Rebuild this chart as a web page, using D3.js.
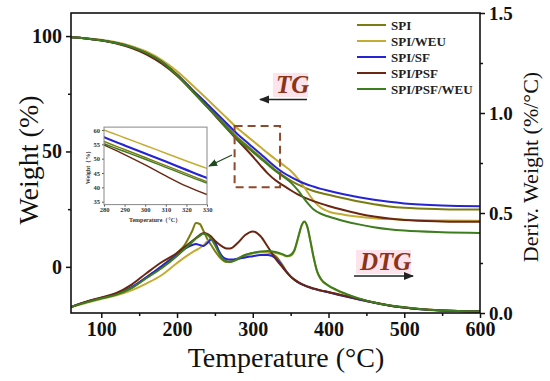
<!DOCTYPE html>
<html>
<head>
<meta charset="utf-8">
<script src="https://cdn.jsdelivr.net/npm/d3@7"></script>
<style>
  body { margin: 0; background: #fff; }
  svg { display: block; font-family: "Liberation Serif", "Times New Roman", serif; }
</style>
</head>
<body>
<svg width="550" height="381"></svg>
<script>
const seriesNames = ["SPI", "SPI/WEU", "SPI/SF", "SPI/PSF", "SPI/PSF/WEU"];
const seriesColors = ["#7c7c14", "#c4ab32", "#2424d4", "#6a2612", "#3d7d1f"];

// TG (weight %)
const tgTemps = [60, 80, 100, 120, 140, 160, 180, 200, 220, 240, 260, 280, 290, 300, 310, 320, 330, 340, 350, 360, 370, 380, 390, 400, 420, 440, 460, 480, 500, 550, 600];
const tgSPI = [99.5, 99.0, 98.2, 97.0, 95.2, 92.6, 88.8, 83.5, 76.8, 70.0, 63.0, 56.0, 53.2, 50.4, 47.6, 44.8, 42.0, 39.6, 37.4, 35.6, 34.1, 32.9, 32.0, 31.2, 29.7, 28.3, 27.1, 26.2, 25.6, 25.0, 24.8];
const tgWEU = [99.5, 99.1, 98.4, 97.3, 95.6, 93.2, 89.6, 84.8, 78.8, 72.6, 66.3, 60.0, 57.3, 54.6, 51.9, 49.2, 46.6, 44.2, 41.6, 38.0, 33.5, 28.8, 25.6, 24.0, 22.6, 21.7, 21.1, 20.7, 20.4, 20.1, 20.0];
const tgSF = [99.5, 99.0, 98.2, 97.0, 95.2, 92.6, 88.8, 83.2, 76.8, 70.5, 64.0, 57.5, 54.6, 51.8, 49.0, 46.1, 43.3, 40.9, 39.0, 37.3, 35.9, 34.8, 33.8, 33.0, 31.5, 30.2, 29.1, 28.2, 27.5, 26.6, 26.3];
const tgPSF = [99.5, 99.0, 98.1, 96.8, 94.8, 92.0, 88.0, 82.8, 76.2, 69.2, 62.0, 54.8, 51.4, 47.8, 44.0, 40.4, 37.5, 35.3, 33.2, 31.3, 29.8, 28.5, 27.4, 26.4, 24.6, 23.0, 21.8, 20.9, 20.3, 19.7, 19.5];
const tgPSFWEU = [99.5, 99.0, 98.2, 97.0, 95.2, 92.6, 88.8, 83.0, 76.2, 69.2, 62.2, 55.2, 52.5, 49.8, 47.0, 44.2, 41.5, 39.2, 36.6, 33.0, 28.6, 25.0, 23.0, 21.8, 19.9, 18.4, 17.2, 16.3, 15.7, 15.0, 14.7];

// DTG (%/°C)
const dtgTemps = [60, 80, 100, 120, 140, 160, 180, 200, 210, 220, 225, 230, 235, 240, 245, 250, 255, 260, 265, 270, 280, 290, 300, 310, 320, 330, 340, 345, 350, 355, 360, 365, 368, 372, 376, 380, 385, 390, 400, 410, 420, 440, 460, 480, 500, 520, 550, 600];
const dtgSPI = [.030, .055, .075, .095, .125, .180, .235, .300, .340, .410, .450, .445, .410, .370, .340, .310, .285, .265, .255, .257, .273, .290, .300, .305, .303, .285, .235, .205, .182, .166, .153, .143, .138, .132, .127, .122, .117, .112, .104, .095, .086, .069, .052, .038, .028, .020, .013, .008];
const dtgWEU = [.030, .050, .070, .088, .113, .148, .190, .250, .278, .303, .314, .325, .340, .358, .370, .352, .312, .278, .260, .256, .268, .285, .298, .304, .305, .300, .290, .283, .286, .310, .375, .440, .455, .430, .360, .282, .205, .168, .135, .115, .098, .072, .052, .038, .028, .020, .013, .008];
const dtgSF = [.030, .055, .075, .095, .130, .180, .235, .290, .320, .340, .345, .340, .335, .350, .367, .355, .312, .282, .270, .267, .270, .278, .284, .290, .290, .275, .228, .203, .182, .166, .153, .143, .138, .132, .127, .122, .117, .112, .103, .094, .085, .068, .051, .037, .027, .019, .012, .007];
const dtgPSF = [.030, .057, .078, .100, .142, .200, .255, .300, .330, .360, .375, .390, .400, .396, .382, .362, .345, .332, .323, .322, .350, .390, .408, .385, .330, .272, .225, .203, .183, .167, .154, .144, .139, .133, .128, .123, .118, .113, .105, .096, .087, .070, .052, .038, .028, .020, .013, .008];
const dtgPSFWEU = [.030, .053, .073, .092, .125, .175, .225, .285, .320, .355, .372, .386, .396, .390, .370, .340, .302, .272, .258, .255, .270, .290, .300, .307, .310, .305, .293, .285, .290, .315, .380, .443, .457, .432, .362, .285, .208, .170, .137, .117, .100, .073, .053, .039, .029, .020, .013, .008];

const xTicks = [100, 200, 300, 400, 500, 600];
const yTicks = [0, 50, 100];
const y2Ticks = [0, 0.5, 1.0, 1.5];
const insetXTicks = [280, 290, 300, 310, 320, 330];
const insetYTicks = [35, 40, 45, 50, 55, 60];

const tgData = [tgSPI, tgWEU, tgSF, tgPSF, tgPSFWEU];
const dtgData = [dtgSPI, dtgWEU, dtgSF, dtgPSF, dtgPSFWEU];

function draw() {
  const svg = d3.select("svg");
  const m = { left: 71, right: 480, top: 13, bottom: 313 };

  const x = d3.scaleLinear().domain([60, 600]).range([m.left, m.right]);
  const y = d3.scaleLinear().domain([-20, 110]).range([m.bottom, m.top]);
  const y2 = d3.scaleLinear().domain([0, 1.5]).range([m.bottom, m.top]);

  const defs = svg.append("defs");
  defs.append("clipPath").attr("id", "plotclip")
    .append("rect").attr("x", m.left).attr("y", m.top)
    .attr("width", m.right - m.left).attr("height", m.bottom - m.top);
  const addArrow = (id, color, size) => {
    defs.append("marker").attr("id", id)
      .attr("viewBox", "0 0 10 10").attr("refX", 9).attr("refY", 5)
      .attr("markerWidth", size).attr("markerHeight", size)
      .attr("orient", "auto-start-reverse").attr("markerUnits", "userSpaceOnUse")
      .append("path").attr("d", "M0,1 L10,5 L0,9 Z").attr("fill", color);
  };
  addArrow("arrowBlack", "#222", 10);
  addArrow("arrowGreen", "#1f4a1f", 9);

  // curves
  const g = svg.append("g").attr("clip-path", "url(#plotclip)");
  const tgLine = (vals) => d3.line()
    .x((d, i) => x(tgTemps[i])).y((d) => y(d))
    .curve(d3.curveMonotoneX)(vals);
  const dtgLine = (vals) => d3.line()
    .x((d, i) => x(dtgTemps[i])).y((d) => y2(d))
    .curve(d3.curveMonotoneX)(vals);

  tgData.forEach((vals, k) => {
    g.append("path").attr("d", tgLine(vals))
      .attr("fill", "none").attr("stroke", seriesColors[k]).attr("stroke-width", 2);
  });
  dtgData.forEach((vals, k) => {
    g.append("path").attr("d", dtgLine(vals))
      .attr("fill", "none").attr("stroke", seriesColors[k]).attr("stroke-width", 2);
  });

  // axes
  const bottomAxis = svg.append("g").attr("transform", `translate(0,${m.bottom})`)
    .call(d3.axisBottom(x).tickValues(xTicks).tickSize(5).tickPadding(4));
  svg.append("g").attr("transform", `translate(0,${m.bottom})`)
    .call(d3.axisBottom(x).tickValues([150, 250, 350, 450, 550]).tickSize(3).tickFormat(""));
  const leftAxis = svg.append("g").attr("transform", `translate(${m.left},0)`)
    .call(d3.axisLeft(y).tickValues(yTicks).tickSize(5).tickPadding(4));
  svg.append("g").attr("transform", `translate(${m.left},0)`)
    .call(d3.axisLeft(y).tickValues([25, 75]).tickSize(3).tickFormat(""));
  const rightAxis = svg.append("g").attr("transform", `translate(${m.right},0)`)
    .call(d3.axisRight(y2).tickValues(y2Ticks).tickSize(5).tickPadding(4).tickFormat(d3.format(".1f")));
  svg.append("g").attr("transform", `translate(${m.right},0)`)
    .call(d3.axisRight(y2).tickValues([0.25, 0.75, 1.25]).tickSize(3).tickFormat(""));

  svg.selectAll(".domain").remove();
  svg.selectAll(".tick line").attr("stroke", "#111").attr("stroke-width", 1.5);
  [bottomAxis, leftAxis].forEach((a) => a.selectAll("text")
    .attr("font-size", 20).attr("font-weight", "bold").attr("fill", "#111")
    .attr("font-family", "Liberation Serif"));
  rightAxis.selectAll("text").attr("font-size", 19).attr("font-weight", "bold")
    .attr("fill", "#111").attr("font-family", "Liberation Serif");

  svg.append("rect").attr("x", m.left).attr("y", m.top)
    .attr("width", m.right - m.left).attr("height", m.bottom - m.top)
    .attr("fill", "none").attr("stroke", "#111").attr("stroke-width", 1.6);

  // titles
  svg.append("text").attr("x", 286).attr("y", 367).attr("text-anchor", "middle")
    .attr("font-size", 28).attr("fill", "#111").text("Temperature (°C)");
  svg.append("text").attr("transform", "translate(38,160) rotate(-90)")
    .attr("text-anchor", "middle").attr("font-size", 28).attr("fill", "#111").text("Weight (%)");
  svg.append("text").attr("transform", "translate(538,167) rotate(-90)")
    .attr("text-anchor", "middle").attr("font-size", 22).attr("fill", "#111")
    .text("Deriv. Weight (%/°C)");

  // legend
  const leg = svg.append("g");
  seriesNames.forEach((name, k) => {
    const ly = 25 + k * 16;
    leg.append("line").attr("x1", 357).attr("x2", 386).attr("y1", ly).attr("y2", ly)
      .attr("stroke", seriesColors[k]).attr("stroke-width", 2);
    leg.append("text").attr("x", 391).attr("y", ly + 5).attr("font-size", 13)
      .attr("font-weight", "bold").attr("fill", "#222").text(name);
  });

  // TG / DTG labels
  svg.append("rect").attr("x", 273).attr("y", 73).attr("width", 35).attr("height", 24).attr("fill", "#fde3ec");
  svg.append("text").attr("x", 276).attr("y", 93).attr("font-size", 25).attr("font-weight", "bold")
    .attr("font-style", "italic").attr("fill", "#8a3418").text("TG");
  svg.append("line").attr("x1", 307).attr("x2", 260).attr("y1", 99.5).attr("y2", 99.5)
    .attr("stroke", "#222").attr("stroke-width", 1.5).attr("marker-end", "url(#arrowBlack)");

  svg.append("rect").attr("x", 356).attr("y", 250).attr("width", 55).attr("height", 24).attr("fill", "#fde3ec");
  svg.append("text").attr("x", 360).attr("y", 270).attr("font-size", 25).attr("font-weight", "bold")
    .attr("font-style", "italic").attr("fill", "#8a3418").text("DTG");
  svg.append("line").attr("x1", 354).attr("x2", 413).attr("y1", 276).attr("y2", 276)
    .attr("stroke", "#222").attr("stroke-width", 1.5).attr("marker-end", "url(#arrowBlack)");

  // zoom box on main chart
  svg.append("rect").attr("x", x(276)).attr("y", y(61)).attr("width", x(336) - x(276))
    .attr("height", y(34.5) - y(61)).attr("fill", "none").attr("stroke", "#8e4a2c")
    .attr("stroke-width", 2).attr("stroke-dasharray", "8,5");

  // inset
  const ix = d3.scaleLinear().domain([280, 330]).range([104, 207]);
  const iy = d3.scaleLinear().domain([34, 61]).range([204.6, 127.1]);
  defs.append("clipPath").attr("id", "insetclip")
    .append("rect").attr("x", 104).attr("y", 127.1).attr("width", 103).attr("height", 77.5);
  const ins = svg.append("g");
  ins.append("rect").attr("x", 104).attr("y", 127.1).attr("width", 103).attr("height", 77.5)
    .attr("fill", "#fff");
  const ig = ins.append("g").attr("clip-path", "url(#insetclip)");
  const order = [3, 4, 0, 1, 2];
  order.forEach((k) => {
    ig.append("path")
      .attr("d", d3.line().x((d, i) => ix(tgTemps[i])).y((d) => iy(d)).curve(d3.curveMonotoneX)(tgData[k]))
      .attr("fill", "none").attr("stroke", seriesColors[k]).attr("stroke-width", k === 2 ? 2.2 : 1.4);
  });
  const ixAxis = ins.append("g").attr("transform", "translate(0,204.6)")
    .call(d3.axisBottom(ix).tickValues(insetXTicks).tickSize(2).tickPadding(1));
  const iyAxis = ins.append("g").attr("transform", "translate(104,0)")
    .call(d3.axisLeft(iy).tickValues(insetYTicks).tickSize(2).tickPadding(2));
  [ixAxis, iyAxis].forEach((a) => {
    a.select(".domain").remove();
    a.selectAll(".tick line").attr("stroke", "#555");
    a.selectAll("text").attr("font-size", 6.5).attr("font-weight", "bold")
      .attr("fill", "#333").attr("font-family", "Liberation Serif");
  });
  ins.append("rect").attr("x", 104).attr("y", 127.1).attr("width", 103).attr("height", 77.5)
    .attr("fill", "none").attr("stroke", "#888").attr("stroke-width", 1);
  ins.append("text").attr("x", 155).attr("y", 221.5).attr("text-anchor", "middle")
    .attr("font-size", 6).attr("font-weight", "bold").attr("fill", "#333").text("Temperature（°C）");
  ins.append("text").attr("transform", "translate(90,166) rotate(-90)").attr("text-anchor", "middle")
    .attr("font-size", 6).attr("font-weight", "bold").attr("fill", "#333").text("Weight（%）");

  svg.append("line").attr("x1", 232).attr("y1", 155).attr("x2", 209).attr("y2", 166)
    .attr("stroke", "#1f4a1f").attr("stroke-width", 1.3).attr("marker-end", "url(#arrowGreen)");
}

draw();
</script>
</body>
</html>
